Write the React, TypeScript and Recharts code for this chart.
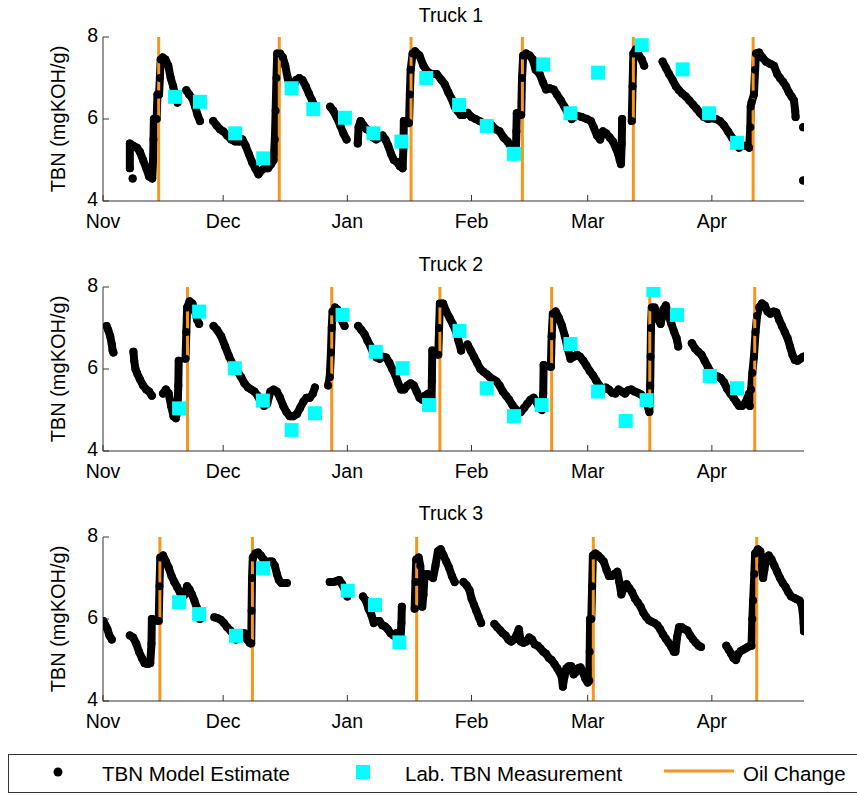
import React from 'react';
import { ComposedChart, Line, Scatter, XAxis, YAxis, ReferenceLine } from 'recharts';

type Pt = [number, number];

// x values are days since Nov 1 (leap year)
const monthTicks = [0, 30, 61, 92, 121, 152];
const monthLabels = ['Nov', 'Dec', 'Jan', 'Feb', 'Mar', 'Apr'];
const tbnTicks = [4, 6, 8];
const truckNames = ['Truck 1', 'Truck 2', 'Truck 3'];

const truck1Model: Pt[][] = [
  [[7.4, 4.55]],
  [[6.7, 4.8], [6.7, 5.4], [7.5, 5.35], [8.5, 5.3], [9.2, 5.2], [10, 5.0], [10.8, 4.8], [11.5, 4.6], [12.3, 4.55], [12.5, 5.0], [12.6, 5.5], [12.7, 6.0], [13.4, 6.0], [13.6, 6.6], [14.0, 6.6], [14.2, 7.0], [14.4, 7.45], [14.9, 7.5], [15.6, 7.45], [16.3, 7.3], [16.9, 7.0], [17.5, 6.8], [18.0, 6.6], [18.6, 6.4]],
  [[20.8, 6.7], [21.5, 6.6], [22.3, 6.5], [23, 6.3], [23.6, 6.1], [24.2, 5.95]],
  [[27.5, 5.95], [28.3, 5.85], [29.2, 5.75], [30, 5.7], [31, 5.6], [32, 5.5], [33, 5.45], [34, 5.45], [34.8, 5.5], [35.6, 5.35], [36.4, 5.15], [37.2, 4.95], [38, 4.8], [38.8, 4.65], [39.6, 4.75], [40.4, 4.8], [41.2, 4.8], [42, 4.9], [42.6, 5.0], [42.9, 5.5], [43.1, 6.2], [43.3, 7.0], [43.5, 7.6], [44.2, 7.6], [44.9, 7.5], [45.5, 7.3], [46.1, 7.0], [46.7, 6.8], [47.4, 6.75], [48.2, 6.95], [49, 7.0], [49.8, 6.95], [50.6, 6.8], [51.4, 6.62], [52.2, 6.45], [52.9, 6.3]],
  [[56.7, 6.3], [57.5, 6.2], [58.3, 6.05], [59.2, 5.85], [60, 5.65], [60.8, 5.5]],
  [[63.6, 5.4], [63.8, 5.8], [64.3, 5.95], [65, 5.85], [65.8, 5.75], [66.6, 5.7], [67.4, 5.55], [68.2, 5.5], [69, 5.55], [69.8, 5.6], [70.5, 5.5], [71.2, 5.35], [71.9, 5.15], [72.6, 5.0], [73.4, 4.95], [74.1, 4.85], [74.8, 4.8], [75, 5.3], [75.1, 5.95], [75.8, 5.95], [76.4, 5.9], [76.6, 6.6], [76.8, 7.2], [77.3, 7.6], [77.9, 7.65], [79, 7.55], [80, 7.3], [81, 7.15], [82, 7.1], [83.3, 7.1], [84.5, 6.95], [85.3, 6.85], [86.2, 6.65], [87, 6.5], [87.8, 6.3], [88.5, 6.2], [89.3, 6.1], [90, 6.1], [91, 6.15], [92, 6.05], [93, 6.0], [94, 5.95], [95, 5.9], [96, 5.85], [97, 5.85], [98, 5.75], [99, 5.7], [100, 5.55], [101, 5.45], [102, 5.3], [102.8, 5.25], [103.1, 5.3], [103.2, 5.7], [103.3, 6.14], [104, 6.1], [104.4, 6.1], [104.6, 7.0], [104.9, 7.55], [105.6, 7.6], [106.5, 7.55], [107.3, 7.45], [108, 7.2], [109, 7.1], [109.8, 6.9], [110.6, 6.72], [111.5, 6.75], [112.5, 6.72], [113.3, 6.6], [114.3, 6.45], [115.2, 6.3], [116, 6.15], [117, 6.0], [118.2, 6.08], [119.5, 6.05], [120.8, 6.0], [121.8, 5.95], [122.5, 5.8], [123.3, 5.6], [124.1, 5.5], [124.8, 5.7], [125.6, 5.65], [126.5, 5.55], [127.3, 5.45], [128, 5.3], [128.6, 5.15], [129, 5.0], [129.3, 4.9], [129.5, 5.4], [129.6, 6.0]],
  [[132, 5.95], [132.2, 6.8], [132.4, 7.6], [133, 7.7], [133.8, 7.55], [134.5, 7.45], [135.1, 7.3]],
  [[139.7, 7.4], [140.5, 7.25], [141.3, 7.1], [142.2, 6.95], [143, 6.8], [143.8, 6.7], [144.6, 6.62], [145.5, 6.55], [146.4, 6.45], [147.3, 6.35], [148.2, 6.25], [149, 6.15], [150, 6.05], [151, 6.0], [152, 6.02], [153, 6.0], [154, 5.95], [155, 5.85], [156, 5.7], [157, 5.55], [158, 5.4], [158.8, 5.3], [159.6, 5.35], [160.5, 5.35], [161.3, 5.3], [161.6, 5.8], [161.7, 6.3], [161.9, 6.4], [162.5, 6.6], [162.8, 7.2], [163.0, 7.6], [163.8, 7.62], [164.6, 7.5], [165.5, 7.4], [166.5, 7.35], [167.5, 7.3], [168.3, 7.1], [169, 7.0], [169.8, 6.9], [170.5, 6.8], [171.2, 6.65], [171.9, 6.55], [172.5, 6.45], [172.8, 6.2], [172.9, 6.05]],
  [[174.8, 5.8]],
  [[174.8, 4.5]],
];
const truck1Lab: Pt[] = [[18, 6.54], [24.2, 6.42], [33, 5.65], [40, 5.04], [47.1, 6.75], [52.5, 6.24], [60.4, 6.03], [67.5, 5.65], [74.5, 5.45], [80.7, 7.0], [88.9, 6.34], [95.8, 5.83], [102.6, 5.15], [109.9, 7.33], [116.7, 6.14], [123.6, 7.13], [134.5, 7.8], [144.7, 7.21], [151.3, 6.14], [158.3, 5.42]];
const truck1Oil: number[] = [13.9, 44, 76.9, 104.7, 132.4, 162.3];

const truck2Model: Pt[][] = [
  [[0.9, 7.05], [1.3, 6.95], [1.8, 6.8], [2.2, 6.6], [2.4, 6.45], [2.6, 6.4]],
  [[7.6, 6.42], [7.8, 6.2], [8.1, 6.0], [8.5, 5.9], [9.2, 5.75], [10, 5.6], [10.8, 5.5], [11.5, 5.45], [12.2, 5.35]],
  [[15, 5.4], [15.7, 5.5], [16.4, 5.4], [17, 5.1], [17.6, 4.85], [18.2, 4.8], [18.6, 5.0], [18.8, 5.6], [18.9, 6.2]],
  [[20.6, 6.25], [20.8, 6.9], [21.0, 7.5], [21.6, 7.65], [22.3, 7.6], [23, 7.4], [23.5, 7.2], [24, 7.1]],
  [[27.6, 7.05], [28.5, 6.95], [29.5, 6.8], [30.5, 6.55], [31.5, 6.3], [32.5, 6.1], [33.5, 5.95], [34.5, 5.8], [35.3, 5.65], [36.2, 5.55], [37, 5.5], [37.8, 5.45], [38.6, 5.35], [39.4, 5.2], [40.2, 5.1], [41, 5.15], [41.8, 5.45], [42.6, 5.5], [43.4, 5.45], [44.2, 5.3], [45, 5.1], [45.8, 4.95], [46.6, 4.85], [47.5, 4.85], [48.4, 4.9], [49.2, 5.05], [50, 5.2], [50.8, 5.3], [51.6, 5.3], [52.4, 5.4], [52.9, 5.55]],
  [[56.2, 5.6], [56.6, 5.8], [56.9, 6.4], [57.1, 7.0], [57.3, 7.4], [57.9, 7.5], [58.5, 7.45], [59.2, 7.3], [59.8, 7.15], [60.3, 7.05]],
  [[63.7, 7.05], [64.5, 6.95], [65.3, 6.85], [66, 6.7], [66.8, 6.55], [67.5, 6.38], [68.3, 6.28], [69.1, 6.25], [69.9, 6.3], [70.7, 6.28], [71.5, 6.15], [72.2, 6.0], [73, 5.85], [73.7, 5.65], [74.4, 5.5], [75.2, 5.5], [76, 5.6], [76.8, 5.65], [77.6, 5.6], [78.3, 5.45], [79, 5.3], [79.7, 5.25], [80.4, 5.35], [81.2, 5.4], [81.8, 5.3], [82, 5.1], [82.1, 5.7], [82.2, 6.45]],
  [[83.7, 6.35], [83.9, 7.0], [84.1, 7.6], [84.9, 7.6], [85.7, 7.4], [86.5, 7.25], [87.3, 7.1], [88, 6.95], [88.7, 6.7], [89.4, 6.45]],
  [[91, 6.6], [91.8, 6.45], [92.6, 6.3], [93.4, 6.15], [94.2, 6.0], [95, 5.93], [95.8, 5.87], [96.6, 5.8], [97.4, 5.75], [98.2, 5.7], [99, 5.6], [99.8, 5.45], [100.6, 5.35], [101.4, 5.25], [102.2, 5.12], [103, 5.02], [103.6, 4.92], [104.3, 4.95], [105.1, 5.05], [105.9, 5.15], [106.7, 5.25], [107.5, 5.3], [108.2, 5.2], [108.9, 5.05], [109.6, 5.0], [109.9, 5.4], [110, 6.1]],
  [[111.8, 6.05], [112, 6.8], [112.3, 7.35], [113, 7.4], [113.8, 7.25], [114.6, 7.05], [115.3, 6.8], [116, 6.5], [116.7, 6.25], [117.5, 6.3], [118.3, 6.35], [119.1, 6.3], [119.9, 6.2], [120.7, 6.08], [121.5, 5.95], [122.3, 5.85], [123.1, 5.72], [123.9, 5.6], [124.7, 5.5], [125.5, 5.55], [126.3, 5.5], [127.1, 5.42], [127.9, 5.4], [128.7, 5.5], [129.5, 5.45], [130.3, 5.4], [131.1, 5.48], [131.9, 5.5], [132.7, 5.45], [133.5, 5.42], [134.3, 5.38], [135.1, 5.3], [135.8, 5.15], [136.4, 4.95], [136.6, 5.6], [136.7, 6.3], [136.8, 7.0], [137, 7.5], [137.7, 7.5], [138.4, 7.25], [139.2, 7.1], [139.9, 7.45], [140.5, 7.55], [141.2, 7.3], [141.9, 7.1], [142.6, 6.9], [143.2, 6.75], [143.6, 6.55]],
  [[147, 6.63], [147.8, 6.5], [148.6, 6.42], [149.4, 6.35], [150.2, 6.2], [151, 6.05], [151.8, 5.92], [152.6, 5.85], [153.4, 5.82], [154.2, 5.78], [155, 5.68], [155.8, 5.52], [156.6, 5.4], [157.4, 5.3], [158.2, 5.18], [158.8, 5.1], [159.5, 5.1], [160.2, 5.15], [160.9, 5.3], [161.3, 5.4], [161.5, 5.1], [161.8, 5.5], [162.1, 5.9], [162.5, 6.3], [162.9, 6.9], [163.3, 7.3], [163.8, 7.5], [164.5, 7.6], [165.2, 7.55], [165.9, 7.4], [166.6, 7.35], [167.4, 7.4], [168.1, 7.38], [168.8, 7.2], [169.5, 7.05], [170.2, 6.9], [170.9, 6.75], [171.5, 6.55], [172.1, 6.35], [172.7, 6.22], [173.4, 6.2], [174.1, 6.25], [174.8, 6.3]],
];
const truck2Lab: Pt[] = [[19, 5.04], [24, 7.4], [32.9, 6.02], [39.9, 5.23], [47.1, 4.51], [52.9, 4.92], [59.8, 7.32], [68.1, 6.42], [74.8, 6.02], [81.4, 5.12], [89, 6.93], [95.8, 5.53], [102.6, 4.85], [109.5, 5.12], [116.7, 6.61], [123.6, 5.45], [130.5, 4.73], [135.7, 5.24], [137.4, 7.93], [143.3, 7.32], [151.5, 5.83], [158.3, 5.53]];
const truck2Oil: number[] = [21.1, 57.1, 84.1, 112.0, 136.5, 162.7];

const truck3Model: Pt[][] = [
  [[0.1, 5.95], [0.6, 5.85], [1.1, 5.75], [1.6, 5.6], [2.2, 5.5]],
  [[6.7, 5.6], [7.5, 5.55], [8.3, 5.4], [9, 5.2], [9.7, 5.05], [10.4, 4.92], [11.1, 4.9], [11.8, 4.92], [12.1, 5.4], [12.2, 6.0]],
  [[13.9, 5.95], [14.1, 6.8], [14.3, 7.5], [15, 7.55], [15.7, 7.4], [16.4, 7.25], [17.1, 7.05], [17.8, 6.9], [18.5, 6.78], [19.2, 6.65], [19.9, 6.55], [20.4, 6.6], [21, 6.8], [21.6, 6.72], [22.2, 6.6], [22.8, 6.45], [23.4, 6.28], [23.9, 6.1], [24.2, 6.0]],
  [[27.8, 6.04], [28.6, 6.02], [29.4, 5.98], [30.2, 5.9], [31, 5.8], [31.8, 5.72], [32.5, 5.62], [33.2, 5.5], [33.9, 5.55], [34.6, 5.65], [35.3, 5.65], [36, 5.5], [36.6, 5.42], [37, 5.4], [37.1, 6.2], [37.2, 7.0], [37.4, 7.5], [38, 7.6], [38.7, 7.62], [39.4, 7.55], [40.1, 7.45], [40.8, 7.38], [41.5, 7.4], [42.2, 7.4], [42.9, 7.3], [43.4, 7.1], [43.9, 6.95], [44.5, 6.88], [45.2, 6.88], [45.9, 6.88]],
  [[56.6, 6.9], [57.4, 6.9], [58.2, 6.92], [59, 6.95], [59.7, 6.85], [60.4, 6.7], [61, 6.55]],
  [[64.9, 6.55], [65.6, 6.45], [66.3, 6.25], [67, 6.1], [67.6, 5.9], [68.3, 5.95], [69, 5.95], [69.7, 5.85], [70.4, 5.82], [71.1, 5.75], [71.8, 5.65], [72.5, 5.6], [73.2, 5.65], [73.8, 5.55], [74.3, 5.55], [74.5, 5.9], [74.6, 6.3]],
  [[77.8, 6.25], [78, 6.9], [78.2, 7.45], [78.8, 7.5], [79.2, 7.3], [79.5, 6.9], [79.7, 6.3], [80, 6.6], [80.3, 7.1], [81, 7.1], [81.7, 7.05], [82.4, 7.0], [83, 7.3], [83.6, 7.65], [84.3, 7.7], [85, 7.55], [85.7, 7.4], [86.4, 7.25], [87.1, 7.05], [87.8, 6.9]],
  [[90, 6.9], [90.8, 6.82], [91.5, 6.7], [92, 6.5], [92.6, 6.35], [93.2, 6.2], [93.8, 6.05], [94.4, 5.9]],
  [[97.7, 5.88], [98.4, 5.8], [99.1, 5.73], [99.8, 5.65], [100.5, 5.6], [101.2, 5.5], [101.9, 5.45], [102.6, 5.5], [103.2, 5.6], [103.8, 5.75], [104.3, 5.45], [105, 5.42], [105.7, 5.45], [106.4, 5.55], [107.1, 5.5], [107.8, 5.38], [108.5, 5.35], [109.2, 5.28], [109.9, 5.2], [110.6, 5.15], [111.3, 5.05], [112, 5.0], [112.7, 4.9], [113.4, 4.8], [114, 4.7], [114.5, 4.6], [114.8, 4.35], [115.2, 4.6], [115.7, 4.8], [116.3, 4.85], [116.9, 4.85], [117.5, 4.65], [118, 4.7], [118.6, 4.8], [119.2, 4.82], [119.8, 4.7], [120.4, 4.55], [121, 4.45], [121.4, 4.5], [121.5, 5.2], [121.6, 6.0]],
  [[121.9, 6.0], [122.1, 6.8], [122.3, 7.55], [122.9, 7.6], [123.6, 7.55], [124.3, 7.48], [125, 7.4], [125.7, 7.2], [126.3, 7.05], [127, 7.05], [127.7, 7.1], [128.4, 7.15], [128.9, 6.9], [129.4, 6.6], [130, 6.75], [130.7, 6.85], [131.4, 6.75], [132.1, 6.65], [132.8, 6.5], [133.5, 6.4], [134.2, 6.3], [134.9, 6.15], [135.6, 6.05], [136.3, 5.97], [137, 5.93], [137.7, 5.9], [138.4, 5.85], [139.1, 5.75], [139.8, 5.62], [140.5, 5.52], [141.2, 5.42], [141.9, 5.32], [142.5, 5.2], [142.9, 5.2], [143.3, 5.55], [143.8, 5.8], [144.5, 5.8], [145.2, 5.75], [145.9, 5.72], [146.6, 5.6], [147.3, 5.5], [148, 5.42], [148.7, 5.35], [149.3, 5.32]],
  [[155.6, 5.35], [156.2, 5.25], [156.8, 5.15], [157.4, 5.05], [158, 5.0], [158.6, 5.15], [159.2, 5.22], [159.8, 5.25], [160.4, 5.28], [161, 5.32], [161.5, 5.35], [161.9, 5.35], [162.1, 6.0], [162.3, 6.45], [162.6, 7.1], [162.8, 7.6], [163.5, 7.7], [164.1, 7.65], [164.5, 7.3], [164.8, 7.0], [165.1, 7.2], [165.6, 7.5], [166.2, 7.55], [166.9, 7.45], [167.6, 7.3], [168.3, 7.15], [169, 7.0], [169.7, 6.88], [170.4, 6.78], [171.1, 6.65], [171.8, 6.55], [172.5, 6.52], [173.2, 6.48], [173.9, 6.45], [174.4, 6.35], [174.7, 6.15], [174.9, 5.9], [175, 5.7]],
];
const truck3Lab: Pt[] = [[19, 6.41], [24, 6.12], [33.2, 5.59], [40, 7.24], [61.1, 6.69], [67.9, 6.34], [74, 5.43]];
const truck3Oil: number[] = [14.2, 37.3, 78.3, 122.4, 163.2];

const trucks = [
  { model: truck1Model, lab: truck1Lab, oil: truck1Oil },
  { model: truck2Model, lab: truck2Lab, oil: truck2Oil },
  { model: truck3Model, lab: truck3Lab, oil: truck3Oil },
];

const FONT = '"Liberation Sans", Arial, Helvetica, sans-serif';
const AX = '#333';
const ORANGE = '#F7961C';
const CYAN = '#00FFFF';
const TICK_LEN = 6;

function toLineData(segs: Pt[][]) {
  const out: { x: number; y: number | null }[] = [];
  segs.forEach((s, i) => {
    if (i > 0) {
      const prev = segs[i - 1][segs[i - 1].length - 1];
      out.push({ x: (prev[0] + s[0][0]) / 2, y: null });
    }
    s.forEach(([x, y]) => out.push({ x, y }));
  });
  return out;
}

const BottomTick = (p: any) => {
  const i = monthTicks.indexOf(p.payload.value);
  return (
    <g>
      <line x1={p.x} x2={p.x} y1={p.y} y2={p.y - TICK_LEN} stroke={AX} />
      <text x={p.x} y={p.y + 27} textAnchor="middle" fontSize={19.5} fontFamily={FONT} fill="#000">
        {monthLabels[i]}
      </text>
    </g>
  );
};
const TopTick = (p: any) => (
  <line x1={p.x} x2={p.x} y1={p.y} y2={p.y + TICK_LEN} stroke={AX} />
);
const LeftTick = (p: any) => (
  <g>
    <line x1={p.x} x2={p.x + TICK_LEN} y1={p.y} y2={p.y} stroke={AX} />
    <text x={p.x - 5} y={p.y} dy="0.28em" textAnchor="end" fontSize={19.5} fontFamily={FONT} fill="#000">
      {p.payload.value}
    </text>
  </g>
);
const RightTick = (p: any) => (
  <line x1={p.x - TICK_LEN} x2={p.x + 2} y1={p.y} y2={p.y} stroke={AX} />
);
const ModelDot = (p: any) => <circle cx={p.cx} cy={p.cy} r={4} fill="#000" />;
const LabSquare = (p: any) => <rect x={p.cx - 7} y={p.cy - 7} width={14} height={14} fill={CYAN} />;

function Panel({ model, lab, oil }: { model: Pt[][]; lab: Pt[]; oil: number[] }) {
  const lineData = toLineData(model);
  const dotData = model.flat().map(([x, y]) => ({ x, y }));
  const labData = lab.map(([x, y]) => ({ x, y }));
  return (
    <ComposedChart width={857} height={250} margin={{ top: 37, right: 53, bottom: 19, left: 43 }}>
      <XAxis type="number" dataKey="x" domain={[0, 175]} ticks={monthTicks} allowDataOverflow interval={0}
        height={30} tickSize={0} tickMargin={0} tickLine={false} axisLine={{ stroke: AX }} tick={BottomTick} />
      <XAxis xAxisId="top" orientation="top" type="number" dataKey="x" domain={[0, 175]} ticks={monthTicks}
        allowDataOverflow interval={0} height={0} tickSize={0} tickMargin={0} tickLine={false}
        axisLine={{ stroke: AX }} tick={TopTick} />
      <YAxis type="number" dataKey="y" domain={[4, 8]} ticks={tbnTicks} allowDataOverflow interval={0}
        width={60} tickSize={0} tickMargin={0} tickLine={false} axisLine={{ stroke: AX }} tick={LeftTick} />
      <YAxis yAxisId="right" orientation="right" type="number" dataKey="y" domain={[4, 8]} ticks={tbnTicks}
        allowDataOverflow interval={0} width={0} tickSize={0} tickMargin={0} tickLine={false}
        axisLine={{ stroke: AX }} tick={RightTick} />
      <Line data={lineData} dataKey="y" stroke="#000" strokeWidth={8} dot={false} activeDot={false}
        isAnimationActive={false} strokeLinejoin="round" strokeLinecap="round" connectNulls={false} />
      <Scatter data={dotData} dataKey="y" isAnimationActive={false} shape={ModelDot} />
      {oil.map((d) => (
        <ReferenceLine key={d} x={d} stroke={ORANGE} strokeWidth={3} />
      ))}
      <Scatter data={labData} dataKey="y" isAnimationActive={false} shape={LabSquare} />
    </ComposedChart>
  );
}

export default function App() {
  return (
    <div style={{ position: 'absolute', left: 0, top: 0, width: 857, height: 795, background: '#fff', fontFamily: FONT }}>
      {trucks.map((t, i) => (
        <div key={i} style={{ position: 'absolute', left: 0, top: i * 250, width: 857, height: 250 }}>
          <Panel model={t.model} lab={t.lab} oil={t.oil} />
        </div>
      ))}
      <svg width={857} height={795} style={{ position: 'absolute', left: 0, top: 0, pointerEvents: 'none' }}>
        {truckNames.map((n, i) => (
          <g key={n}>
            <text x={451} y={22 + 249 * i} textAnchor="middle" fontSize={19.5} fontFamily={FONT} fill="#000">{n}</text>
            <text x={58} y={119 + 250 * i} transform={`rotate(-90 58 ${119 + 250 * i})`} textAnchor="middle"
              dominantBaseline="central" fontSize={20} fontFamily={FONT} fill="#000">TBN (mgKOH/g)</text>
          </g>
        ))}
        <rect x={8.5} y={754.5} width={860} height={38} fill="#fff" stroke={AX} strokeWidth={1} />
        <circle cx={58} cy={772} r={4.5} fill="#000" />
        <text x={102} y={781} fontSize={20.5} fontFamily={FONT} fill="#000">TBN Model Estimate</text>
        <rect x={356} y={765} width={14} height={14} fill={CYAN} />
        <text x={405} y={781} fontSize={20.5} fontFamily={FONT} fill="#000">Lab. TBN Measurement</text>
        <line x1={664} x2={734} y1={771} y2={771} stroke={ORANGE} strokeWidth={3} />
        <text x={743} y={781} fontSize={20.5} fontFamily={FONT} fill="#000">Oil Change</text>
      </svg>
    </div>
  );
}
